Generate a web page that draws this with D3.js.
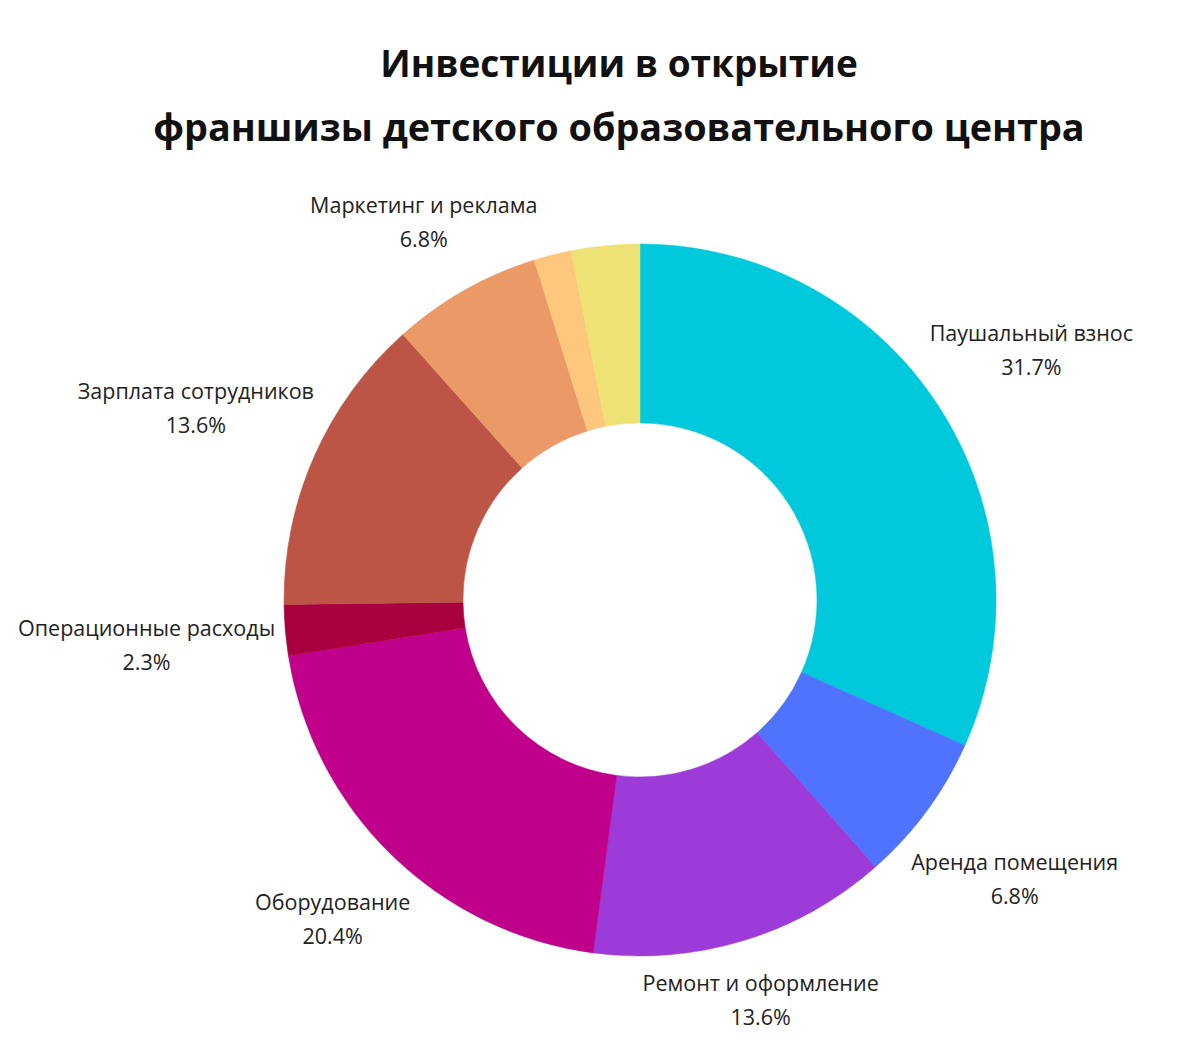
<!DOCTYPE html>
<html>
<head>
<meta charset="utf-8">
<script src="https://cdn.jsdelivr.net/npm/d3@7"></script>
<style>
  html, body { margin: 0; padding: 0; background: #fff; }
  svg { display: block; }
</style>
</head>
<body>
<svg id="chart" width="1180" height="1053"></svg>
<script>
const titleLines = ["Инвестиции в открытие", "франшизы детского образовательного центра"];
const categories = ["Паушальный взнос", "Аренда помещения", "Ремонт и оформление", "Оборудование",
  "Операционные расходы", "Зарплата сотрудников", "Маркетинг и реклама", "Прочее 1", "Прочее 2"];
const values = [31.7, 6.8, 13.6, 20.4, 2.3, 13.6, 6.8, 1.7, 3.1];
const showLabel = [true, true, true, true, true, true, true, false, false];
const colors = ["#00C9DB", "#5073FF", "#9C3BD7", "#C0008B", "#A9003F", "#BC5545", "#EB9966", "#FDC77D", "#EEE275"];

const svg = d3.select("#chart");
const cx = 640, cy = 600, R = 356, r0 = 177;
const font = "'Open Sans', 'Noto Sans', sans-serif";

// Title
svg.append("text")
  .attr("x", 619).attr("y", 77)
  .attr("text-anchor", "middle")
  .attr("font-family", font).attr("font-weight", 700)
  .attr("fill", "#111")
  .selectAll("tspan").data(titleLines).join("tspan")
  .attr("x", 619).attr("dy", (d, i) => i === 0 ? 0 : 64)
  .attr("font-size", (d, i) => i === 0 ? 37 : 37.8)
  .text(d => d);

const pie = d3.pie().sort(null).value(d => d.v);
const data = categories.map((c, i) => ({ c, v: values[i], color: colors[i], show: showLabel[i] }));
const arcs = pie(data);
const total = d3.sum(values);
const arc = d3.arc().innerRadius(r0).outerRadius(R);

const g = svg.append("g").attr("transform", `translate(${cx},${cy})`);
g.selectAll("path.slice").data(arcs).join("path")
  .attr("class", "slice")
  .attr("d", arc)
  .attr("fill", d => d.data.color)
  .attr("stroke", d => d.data.color)
  .attr("stroke-width", 0.5);

// Labels placed outside: text box just touches a circle of radius Rg
const Rg = R + 9;
const fmt = d3.format(".1f");
const labels = g.selectAll("g.lab").data(arcs.filter(d => d.data.show)).join("g").attr("class", "lab");
labels.append("text")
  .attr("text-anchor", "middle")
  .attr("font-family", font).attr("font-size", 21.5)
  .attr("fill", "#222")
  .selectAll("tspan").data(d => [d.data.c, fmt(d.data.v / total * 100) + "%"]).join("tspan")
  .attr("x", 0).attr("y", (d, i) => i * 34)
  .text(d => d);

labels.each(function(d) {
  const sel = d3.select(this);
  const bb = this.getBBox();
  const hw = bb.width / 2, hh = bb.height / 2;
  const bcx = bb.x + hw, bcy = bb.y + hh;
  const a = (d.startAngle + d.endAngle) / 2;
  const ux = Math.sin(a), uy = -Math.cos(a);
  const nearest = t => {
    const x = ux * t, y = uy * t;
    const nx = Math.max(0, Math.abs(x) - hw);
    const ny = Math.max(0, Math.abs(y) - hh);
    return Math.hypot(nx, ny);
  };
  let lo = 0, hi = 1000;
  for (let k = 0; k < 60; k++) {
    const m = (lo + hi) / 2;
    if (nearest(m) < Rg) lo = m; else hi = m;
  }
  const t = (lo + hi) / 2;
  sel.attr("transform", `translate(${ux * t - bcx},${uy * t - bcy + 3})`);
});
</script>
</body>
</html>
